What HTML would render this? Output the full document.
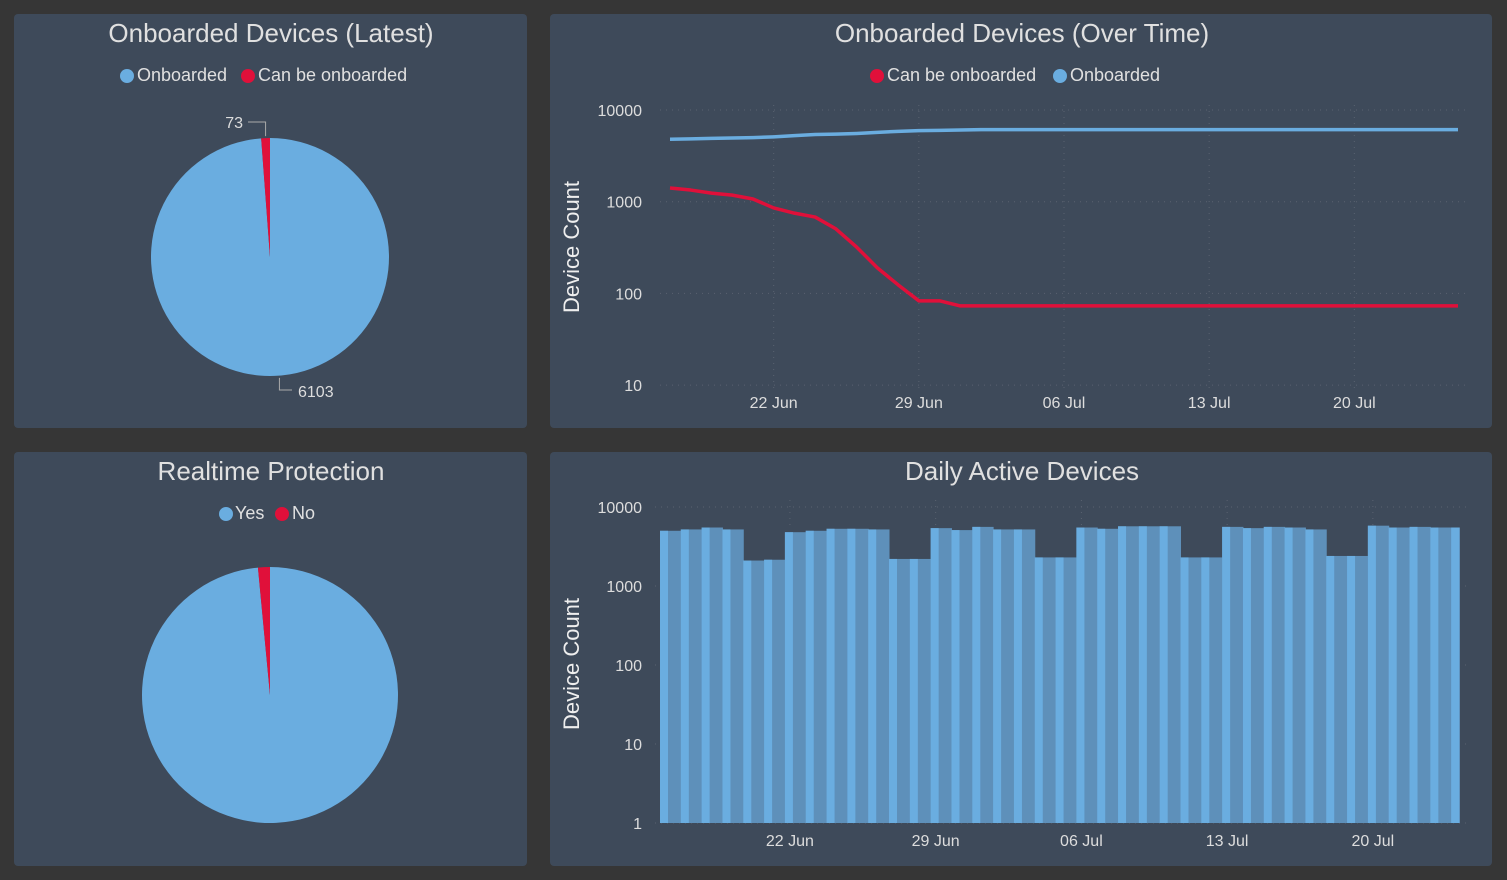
<!DOCTYPE html>
<html><head><meta charset="utf-8"><style>
html,body{margin:0;padding:0;background:#363636;}
svg{display:block;font-family:"Liberation Sans",Arial,sans-serif;}
</style></head><body>
<svg id="s" width="1507" height="880" viewBox="0 0 1507 880" xmlns="http://www.w3.org/2000/svg">
<rect width="1507" height="880" fill="#363636"/>
<rect x="14" y="14" width="513" height="414" rx="4" fill="#3e4a5a"/>
<rect x="550" y="14" width="942" height="414" rx="4" fill="#3e4a5a"/>
<rect x="14" y="452" width="513" height="414" rx="4" fill="#3e4a5a"/>
<rect x="550" y="452" width="942" height="414" rx="4" fill="#3e4a5a"/>
<g fill="#e0e0e0" font-size="26" text-anchor="middle">
<text x="271" y="42">Onboarded Devices (Latest)</text>
<text x="1022" y="42">Onboarded Devices (Over Time)</text>
<text x="271" y="480">Realtime Protection</text>
<text x="1022" y="480">Daily Active Devices</text>
</g>
<g font-size="18" fill="#e0e0e0">
<g><circle cx="127" cy="76" r="7" fill="#6aade0"/><text x="137" y="81">Onboarded</text></g>
<g><circle cx="248" cy="76" r="7" fill="#e0103a"/><text x="258" y="81">Can be onboarded</text></g>
<g><circle cx="877" cy="76" r="7" fill="#e0103a"/><text x="887" y="81">Can be onboarded</text></g>
<g><circle cx="1060" cy="76" r="7" fill="#6aade0"/><text x="1070" y="81">Onboarded</text></g>
<g><circle cx="226" cy="514" r="7" fill="#6aade0"/><text x="235" y="519">Yes</text></g>
<g><circle cx="282" cy="514" r="7" fill="#e0103a"/><text x="292" y="519">No</text></g>
</g>
<g id="pies"></g>
<g id="line"></g>
<g id="bars"></g>
</svg>
<script>
const NS="http://www.w3.org/2000/svg";
function mk(tag,attrs,parent){const e=document.createElementNS(NS,tag);for(const k in attrs)e.setAttribute(k,attrs[k]);parent.appendChild(e);return e;}
// ---- data ----
const pie1Labels=["Onboarded","Can be onboarded"];
const pie1Values=[6103,73];
const pie2Labels=["Yes","No"];
const pie2Values=[98.5,1.5];
const lineDates=["17 Jun","18 Jun","19 Jun","20 Jun","21 Jun","22 Jun","23 Jun","24 Jun","25 Jun","26 Jun","27 Jun","28 Jun","29 Jun","30 Jun","01 Jul","02 Jul","03 Jul","04 Jul","05 Jul","06 Jul","07 Jul","08 Jul","09 Jul","10 Jul","11 Jul","12 Jul","13 Jul","14 Jul","15 Jul","16 Jul","17 Jul","18 Jul","19 Jul","20 Jul","21 Jul","22 Jul","23 Jul","24 Jul","25 Jul"];
const canBeOnboarded=[1410,1340,1240,1180,1070,855,750,680,505,320,190,124,83,83,73,73,73,73,73,73,73,73,73,73,73,73,73,73,73,73,73,73,73,73,73,73,73,73,73];
const onboarded=[4800,4850,4900,4950,5000,5100,5250,5400,5450,5550,5700,5850,5950,6000,6050,6100,6103,6103,6103,6103,6103,6103,6103,6103,6103,6103,6103,6103,6103,6103,6103,6103,6103,6103,6103,6103,6103,6103,6103];
const lineTicks=["22 Jun","29 Jun","06 Jul","13 Jul","20 Jul"];
const lineYTicks=[10,100,1000,10000];
const barDates=["16 Jun","17 Jun","18 Jun","19 Jun","20 Jun","21 Jun","22 Jun","23 Jun","24 Jun","25 Jun","26 Jun","27 Jun","28 Jun","29 Jun","30 Jun","01 Jul","02 Jul","03 Jul","04 Jul","05 Jul","06 Jul","07 Jul","08 Jul","09 Jul","10 Jul","11 Jul","12 Jul","13 Jul","14 Jul","15 Jul","16 Jul","17 Jul","18 Jul","19 Jul","20 Jul","21 Jul","22 Jul","23 Jul"];
const activeDevices=[5000,5200,5500,5200,2100,2150,4800,5000,5300,5300,5200,2200,2200,5400,5100,5600,5200,5200,2300,2300,5500,5300,5700,5700,5700,2300,2300,5600,5400,5600,5500,5200,2400,2400,5800,5500,5600,5500];
const barTicks=["22 Jun","29 Jun","06 Jul","13 Jul","20 Jul"];
const barYTicks=[1,10,100,1000,10000];
// ---- pies ----
const pg=document.getElementById('pies');
function pie(cx,cy,r,vals,name){
  const tot=vals.reduce((a,b)=>a+b,0);let a0=0;const cols=["#6aade0","#e0103a"];const out=[];
  vals.forEach((v,i)=>{const a1=a0+v/tot*2*Math.PI;
    const p=(a)=>[cx+r*Math.sin(a),cy-r*Math.cos(a)];
    const [x0,y0]=p(a0),[x1,y1]=p(a1);
    const path=mk('path',{d:`M${cx},${cy}L${x0},${y0}A${r},${r} 0 ${a1-a0>Math.PI?1:0} 1 ${x1},${y1}Z`,fill:cols[i]},pg);
    
    
    out.push([a0,a1]);a0=a1;});
  return out;
}
const s1=pie(270,257,119,pie1Values,'pie-onboarded');
pie(270,695,128,pie2Values,'pie-realtime');
{const am=(s1[1][0]+s1[1][1])/2;const x=270+119*Math.sin(am),y=257-119*Math.cos(am);
 mk('path',{d:`M${x},${y-2}L${x},122L248,122`,stroke:'#aaa',fill:'none','stroke-width':1},pg);
 const t=mk('text',{x:243,y:128,fill:'#ddd','font-size':16,'text-anchor':'end'},pg);t.textContent=pie1Values[1];
 
 const a2=(s1[0][0]+s1[0][1])/2;const x2=270+119*Math.sin(a2),y2=257-119*Math.cos(a2);
 mk('path',{d:`M${x2+5},${y2+2}L${x2+5},390L292,390`,stroke:'#aaa',fill:'none','stroke-width':1},pg);
 const t2=mk('text',{x:298,y:397,fill:'#ddd','font-size':16},pg);t2.textContent=pie1Values[0];
 }
// ---- line chart ----
const lg=document.getElementById('line');
const lx=i=>670+i*(1458-670)/(lineDates.length-1);
const ly=v=>110+(4-Math.log10(v))*91.7;
lineYTicks.forEach(v=>{mk('line',{x1:660,x2:1470,y1:ly(v),y2:ly(v),stroke:'#5a6270','stroke-dasharray':'1 5'},lg);
  const t=mk('text',{x:642,y:ly(v)+6,fill:'#ddd','font-size':16,'text-anchor':'end'},lg);t.textContent=v;
  });
lineTicks.forEach(d=>{const i=lineDates.indexOf(d);const x=lx(i);
  mk('line',{x1:x,x2:x,y1:105,y2:388,stroke:'#5a6270','stroke-dasharray':'1 5'},lg);
  const t=mk('text',{x:x,y:408,fill:'#ddd','font-size':16,'text-anchor':'middle'},lg);t.textContent=d;
  });
{const t=mk('text',{transform:'translate(579,247) rotate(-90)',fill:'#eee','font-size':22,'text-anchor':'middle'},lg);t.textContent='Device Count';
 }
[[canBeOnboarded,'#e0103a','line-can-be-onboarded'],[onboarded,'#6aade0','line-onboarded']].forEach(([arr,c,n])=>{
  const p=mk('path',{d:arr.map((v,i)=>(i?'L':'M')+lx(i)+','+ly(v)).join(''),stroke:c,'stroke-width':3.5,fill:'none','stroke-linejoin':'round'},lg);
  });
// ---- bar chart ----
const bg=document.getElementById('bars');
const bw=20.82;
const bx=i=>660+i*bw;
const by=v=>823-Math.log10(v)*79;
barYTicks.forEach(v=>{mk('line',{x1:655,x2:1470,y1:by(v),y2:by(v),stroke:'#5a6270','stroke-dasharray':'1 5'},bg);
  const t=mk('text',{x:642,y:by(v)+6,fill:'#ddd','font-size':16,'text-anchor':'end'},bg);t.textContent=v;
  });
activeDevices.forEach((v,i)=>{
  const last=i===activeDevices.length-1;
  const w=last?1460-bx(i):bw+0.5;
  const r=mk('rect',{x:bx(i),y:by(v),width:w,height:823-by(v),fill:'#5e90ba'},bg);
  
  mk('rect',{x:bx(i),y:by(v),width:8,height:823-by(v),fill:'#6aade0'},bg);
  if(last) mk('rect',{x:bx(i)+bw,y:by(v),width:8,height:823-by(v),fill:'#6aade0'},bg);});
barTicks.forEach(d=>{const i=barDates.indexOf(d);const x=bx(i)+5;
  mk('line',{x1:x,x2:x,y1:500,y2:530,stroke:'#5a6270','stroke-dasharray':'1 5'},bg);
  const t=mk('text',{x:x,y:846,fill:'#ddd','font-size':16,'text-anchor':'middle'},bg);t.textContent=d;
  });
{const t=mk('text',{transform:'translate(579,664) rotate(-90)',fill:'#eee','font-size':22,'text-anchor':'middle'},bg);t.textContent='Device Count';
 }
</script>
</body></html>
